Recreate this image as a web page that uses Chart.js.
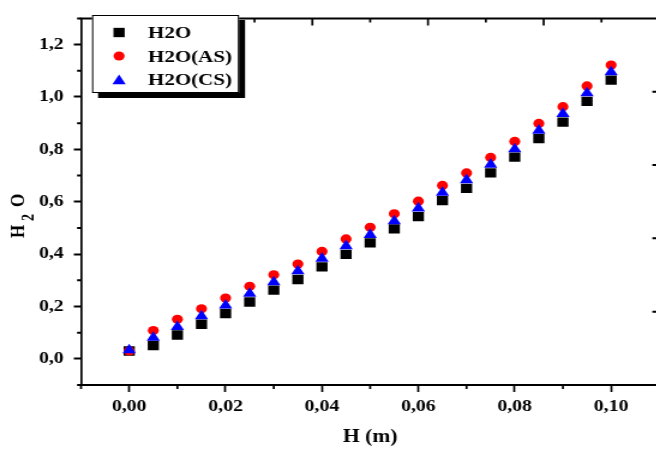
<!DOCTYPE html>
<html>
<head>
<meta charset="utf-8">
<script src="https://cdn.jsdelivr.net/npm/chart.js@4.4.0/dist/chart.umd.min.js"></script>
<style>
html, body { margin: 0; padding: 0; overflow: hidden; background: #fff; }
#view { display: block; width: 656px; height: 450px; }
#src { display: none; }
</style>
</head>
<body>
<!-- the original figure is stretched sideways: chart.js draws it 556 wide, it is shown 1.2x wider -->
<canvas id="view" width="656" height="450"></canvas>
<div id="src"><canvas id="h2o-chart" width="556" height="450"></canvas></div>
<script>
//////data//////
var hValues = [0, 0.005, 0.01, 0.015, 0.02, 0.025, 0.03, 0.035, 0.04, 0.045, 0.05,
               0.055, 0.06, 0.065, 0.07, 0.075, 0.08, 0.085, 0.09, 0.095, 0.1];
var h2o   = [0.03, 0.051, 0.091, 0.132, 0.173, 0.217, 0.262, 0.303, 0.351, 0.399, 0.443,
             0.496, 0.543, 0.604, 0.651, 0.71, 0.77, 0.841, 0.904, 0.983, 1.064];
var h2oAS = [0.03, 0.108, 0.151, 0.191, 0.232, 0.277, 0.321, 0.362, 0.41, 0.458, 0.502,
             0.554, 0.602, 0.662, 0.71, 0.769, 0.83, 0.899, 0.963, 1.042, 1.122];
var h2oCS = [0.033, 0.081, 0.122, 0.163, 0.204, 0.249, 0.293, 0.335, 0.383, 0.431, 0.474,
             0.526, 0.575, 0.635, 0.683, 0.742, 0.801, 0.872, 0.936, 1.015, 1.095];
var seriesLabels = ['H2O', 'H2O(AS)', 'H2O(CS)'];
var xTicks = [0, 0.02, 0.04, 0.06, 0.08, 0.10];
var yTicks = [0, 0.2, 0.4, 0.6, 0.8, 1.0, 1.2];

function points(ys) {
    return hValues.map(function (h, i) { return {x: h, y: ys[i]}; });
}

var serif = '"Liberation Serif", "Times New Roman", serif';
Chart.defaults.font.family = serif;
Chart.defaults.color = '#000';

// same shapes as chart.js point styles, used for the boxed legend
function drawMarker(ctx, style, x, y, r) {
    ctx.beginPath();
    if (style === 'rect') {
        var s = r * Math.SQRT1_2;
        ctx.rect(x - s, y - s, 2 * s, 2 * s);
    } else if (style === 'triangle') {
        ctx.moveTo(x, y - r);
        ctx.lineTo(x + r * 0.866, y + r * 0.5);
        ctx.lineTo(x - r * 0.866, y + r * 0.5);
        ctx.closePath();
    } else {
        ctx.arc(x, y, r, 0, Math.PI * 2);
    }
    ctx.fill();
}

//////frame, minor ticks, y title and legend box//////
var originLook = {
    id: 'originLook',
    afterDraw: function (chart) {
        var ctx = chart.ctx, a = chart.chartArea, sc = chart.scales;
        var w5 = (a.right - a.left) / 10, h5 = (a.bottom - a.top) / 5;
        ctx.save();
        ctx.strokeStyle = '#000';
        ctx.fillStyle = '#000';

        // top frame line
        ctx.lineWidth = 2;
        ctx.beginPath();
        ctx.moveTo(a.left - 1, a.top);
        ctx.lineTo(a.right, a.top);
        ctx.stroke();

        // minor ticks bottom
        ctx.lineWidth = 1.7;
        ctx.beginPath();
        var xs = xTicks[1] - xTicks[0];
        for (var v = xTicks[0] - xs / 2; v <= sc.x.max + 1e-9; v += xs) {
            var px = sc.x.getPixelForValue(v);
            ctx.moveTo(px, a.bottom); ctx.lineTo(px, a.bottom + 4);
        }
        // inward ticks on the top frame
        for (var t = 1; t < 10; t++) {
            var tx = a.left + t * w5;
            ctx.moveTo(tx, a.top); ctx.lineTo(tx, a.top + (t % 2 === 0 ? 7 : 4));
        }
        ctx.stroke();

        // minor ticks left
        ctx.lineWidth = 2;
        ctx.beginPath();
        var ys = yTicks[1] - yTicks[0];
        for (var w = yTicks[0] - ys / 2; w <= sc.y.max + 1e-9; w += ys) {
            var py = sc.y.getPixelForValue(w);
            ctx.moveTo(a.left, py); ctx.lineTo(a.left - 3.3, py);
        }
        // inward ticks of the right frame, which lies just off the page
        for (var k = 1; k < 5; k++) {
            var ty = a.top + k * h5;
            ctx.moveTo(a.right, ty); ctx.lineTo(a.right - 5.8, ty);
        }
        ctx.stroke();

        // y title H2O with subscript
        ctx.save();
        ctx.translate(19.6, 238);
        ctx.rotate(-Math.PI / 2);
        ctx.textBaseline = 'alphabetic';
        ctx.font = 'bold 17px ' + serif;
        ctx.fillText('H', 0, 0);
        ctx.font = 'bold 14px ' + serif;
        ctx.fillText('2', 17, 7.9);
        ctx.font = 'bold 17px ' + serif;
        ctx.fillText('O', 31, 0);
        ctx.restore();

        // legend box with shadow
        ctx.fillRect(81.7, 20, 122.5, 78);
        ctx.fillStyle = '#fff';
        ctx.fillRect(76.7, 15, 122.5, 78);
        ctx.lineWidth = 1;
        ctx.strokeRect(77.2, 15.5, 121.5, 77);

        var rows = [38.3, 61.8, 84.8];
        var marks = [32.5, 56, 81];
        ctx.font = 'bold 17.5px ' + serif;
        ctx.textBaseline = 'alphabetic';
        chart.data.datasets.forEach(function (ds, i) {
            ctx.fillStyle = ds.backgroundColor;
            drawMarker(ctx, ds.pointStyle, 99.2, marks[i], ds.pointRadius);
            ctx.fillStyle = '#000';
            ctx.fillText(ds.label, 123.3, rows[i]);
        });
        ctx.restore();
    }
};

// copy the finished chart onto the visible canvas, 1.2x wider
var stretchView = {
    id: 'stretchView',
    afterDraw: function (chart) {
        var view = document.getElementById('view');
        var vctx = view.getContext('2d');
        vctx.fillStyle = '#fff';
        vctx.fillRect(0, 0, view.width, view.height);
        vctx.imageSmoothingEnabled = true;
        vctx.drawImage(chart.canvas, 0, 0, chart.width * 1.2, chart.height);
    }
};

var tickFont = {size: 16.5, weight: 'bold'};
var ctx = document.getElementById('h2o-chart').getContext('2d');
var chart = new Chart(ctx, {
    type: 'scatter',
    data: {
        datasets: [{
            label: seriesLabels[0],
            data: points(h2o),
            pointStyle: 'rect',
            pointRadius: 6.6,
            backgroundColor: '#000000',
            borderColor: '#000000',
            borderWidth: 0,
            order: 2
        }, {
            label: seriesLabels[1],
            data: points(h2oAS),
            pointStyle: 'circle',
            pointRadius: 4.6,
            backgroundColor: '#ff0000',
            borderColor: '#ff0000',
            borderWidth: 0,
            order: 1
        }, {
            label: seriesLabels[2],
            data: points(h2oCS),
            pointStyle: 'triangle',
            pointRadius: 6.4,
            backgroundColor: '#0000ff',
            borderColor: '#0000ff',
            borderWidth: 0,
            order: 0
        }]
    },
    options: {
        responsive: false,
        devicePixelRatio: 1,
        animation: false,
        layout: {padding: {top: 7, right: 5.2, left: 0, bottom: 0}},
        plugins: {
            legend: {display: false},
            tooltip: {enabled: false}
        },
        scales: {
            x: {
                type: 'linear',
                position: 'bottom',
                min: -0.01,
                max: 0.11,
                afterBuildTicks: function (s) { s.ticks = xTicks.map(function (v) { return {value: v}; }); },
                afterFit: function (s) { s.height = 65; },
                ticks: {
                    font: tickFont,
                    padding: 5,
                    maxRotation: 0,
                    autoSkip: false,
                    callback: function (v) { return v.toFixed(2).replace('.', ','); }
                },
                grid: {display: true, drawOnChartArea: false, drawTicks: true, tickLength: 7, tickWidth: 1.7, tickColor: '#000'},
                border: {display: true, color: '#000', width: 2},
                title: {display: true, text: 'H (m)', font: {size: 18, weight: 'bold'}, padding: {top: 0, bottom: 2}}
            },
            y: {
                type: 'linear',
                position: 'left',
                min: -0.1,
                max: 1.3,
                afterBuildTicks: function (s) { s.ticks = yTicks.map(function (v) { return {value: v}; }); },
                afterFit: function (s) { s.width = 67.5; },
                ticks: {
                    font: tickFont,
                    padding: 8.5,
                    callback: function (v) { return v.toFixed(1).replace('.', ','); }
                },
                grid: {display: true, drawOnChartArea: false, drawTicks: true, tickLength: 6, tickWidth: 2, tickColor: '#000'},
                border: {display: true, color: '#000', width: 1.7}
            }
        }
    },
    plugins: [originLook, stretchView]
});
</script>
</body>
</html>
